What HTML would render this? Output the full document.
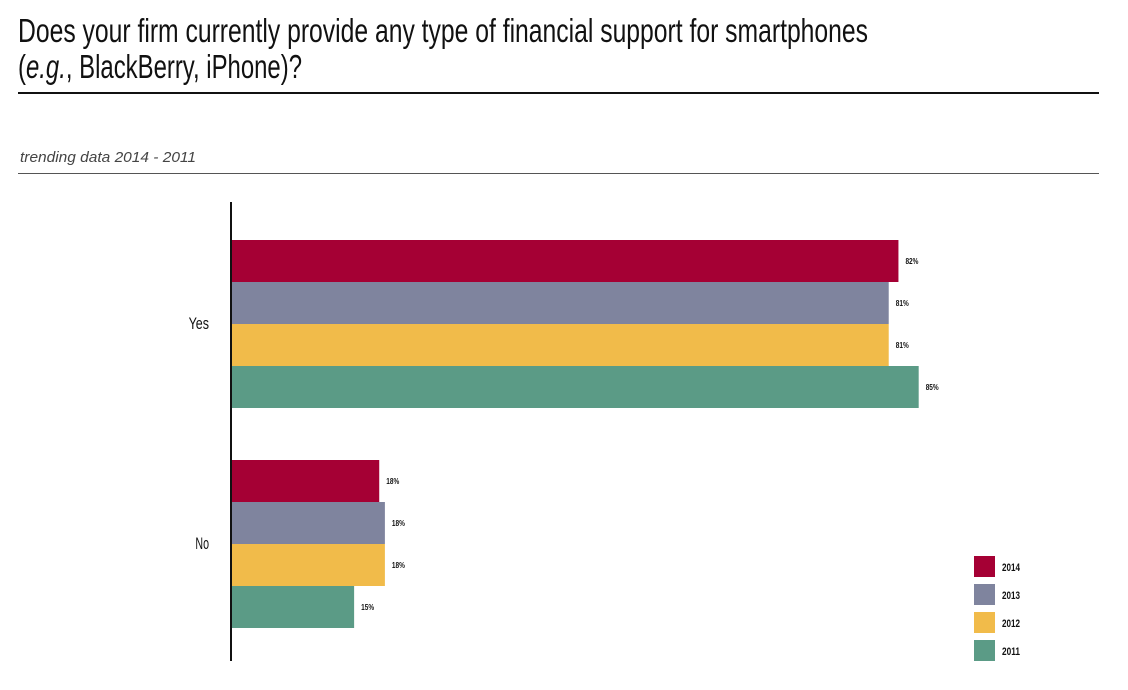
<!DOCTYPE html>
<html><head><meta charset="utf-8"><style>
body{margin:0;background:#fff;}
svg{display:block;font-family:"Liberation Sans",sans-serif;}
</style></head><body>
<svg id="chart" width="1128" height="690" xmlns="http://www.w3.org/2000/svg">
<text x="18" y="42" font-size="33" fill="#111" textLength="850" lengthAdjust="spacingAndGlyphs">Does your firm currently provide any type of financial support for smartphones</text>
<text x="18" y="78" font-size="33" fill="#111" textLength="284" lengthAdjust="spacingAndGlyphs">(<tspan font-style="italic">e.g.</tspan>, BlackBerry, iPhone)?</text>
<rect x="18" y="92" width="1081" height="2" fill="#111"/>
<text x="20" y="162" font-size="15" font-style="italic" fill="#444" textLength="176" lengthAdjust="spacingAndGlyphs">trending data 2014 - 2011</text>
<rect x="18" y="173" width="1081" height="1" fill="#555"/>
<g id="bars"></g>
<rect x="230" y="202" width="2" height="459" fill="#111"/>
<g id="legend"></g>
</svg>
<script>
const categories = ["Yes", "No"];
const seriesNames = ["2014", "2013", "2012", "2011"];
const values2014 = [82.4, 18.3];
const values2013 = [81.2, 19.0];
const values2012 = [81.2, 19.0];
const values2011 = [84.9, 15.2];
const labels2014 = ["82%", "18%"];
const labels2013 = ["81%", "18%"];
const labels2012 = ["81%", "18%"];
const labels2011 = ["85%", "15%"];

const colors = ["#a50034", "#7f849e", "#f1bb4a", "#5b9b86"];
const allVals = [values2014, values2013, values2012, values2011];
const allLabels = [labels2014, labels2013, labels2012, labels2011];
const NS = "http://www.w3.org/2000/svg";
const x0 = 231, pxPerUnit = 8.1;
const xScale = v => x0 + v * pxPerUnit;
const groupTop = [240, 460], barH = 42;
const bars = document.getElementById('bars');
categories.forEach((cat, ci) => {
  const t = document.createElementNS(NS, 'text');
  
  
  t.setAttribute('x', 209); t.setAttribute('y', groupTop[ci] + 2 * barH + 5);
  t.setAttribute('text-anchor', 'end'); t.setAttribute('font-size', '17');
  t.setAttribute('fill', '#111');
  t.setAttribute('textLength', cat.length * 6.8); t.setAttribute('lengthAdjust', 'spacingAndGlyphs');
  t.textContent = cat;
  bars.appendChild(t);
  allVals.forEach((vals, si) => {
    const y = groupTop[ci] + si * barH;
    const r = document.createElementNS(NS, 'rect');
    
    
    r.setAttribute('x', x0); r.setAttribute('y', y);
    r.setAttribute('width', xScale(vals[ci]) - x0); r.setAttribute('height', barH);
    r.setAttribute('fill', colors[si]);
    bars.appendChild(r);
    const l = document.createElementNS(NS, 'text');
    
    
    l.setAttribute('x', xScale(vals[ci]) + 7); l.setAttribute('y', y + barH / 2 + 3);
    l.setAttribute('font-size', '8'); l.setAttribute('font-weight', 'bold'); l.setAttribute('fill', '#111');
    l.setAttribute('textLength', '13'); l.setAttribute('lengthAdjust', 'spacingAndGlyphs');
    l.textContent = allLabels[si][ci];
    bars.appendChild(l);
  });
});
const legend = document.getElementById('legend');
seriesNames.forEach((s, si) => {
  const y = 556 + si * 28;
  const r = document.createElementNS(NS, 'rect');
  
  
  r.setAttribute('x', 974); r.setAttribute('y', y); r.setAttribute('width', 21); r.setAttribute('height', 21);
  r.setAttribute('fill', colors[si]);
  legend.appendChild(r);
  const t = document.createElementNS(NS, 'text');
  
  
  t.setAttribute('x', 1002); t.setAttribute('y', y + 15);
  t.setAttribute('font-size', '11'); t.setAttribute('font-weight', 'bold'); t.setAttribute('fill', '#111');
  t.setAttribute('textLength', '18'); t.setAttribute('lengthAdjust', 'spacingAndGlyphs');
  t.textContent = s;
  legend.appendChild(t);
});
</script>
</body></html>
